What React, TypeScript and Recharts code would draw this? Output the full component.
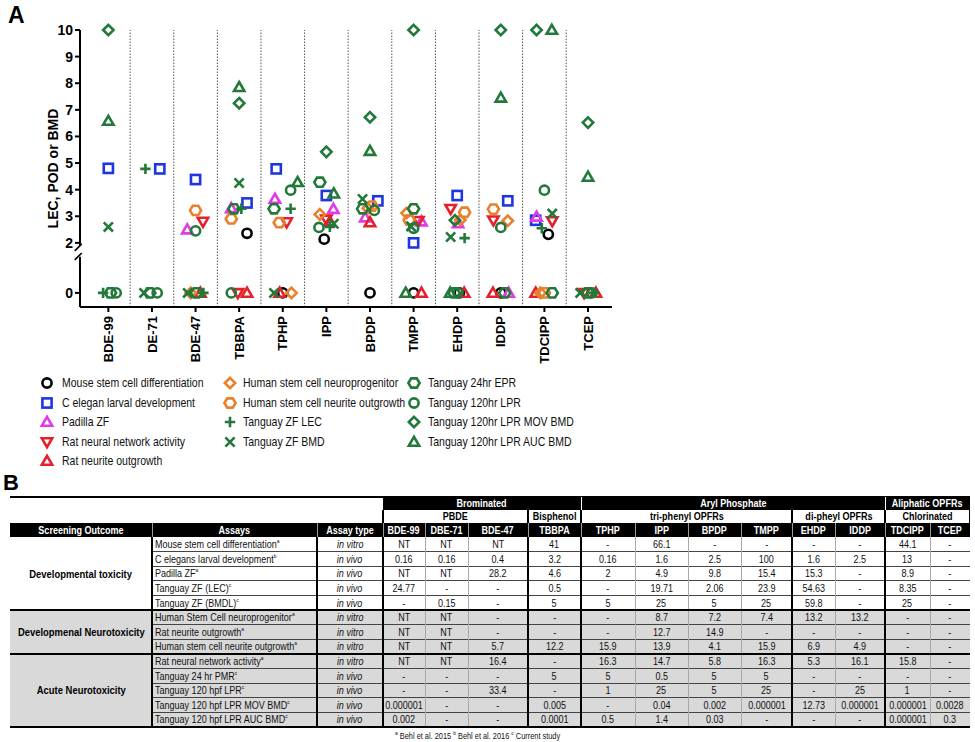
import React from 'react';
import { ScatterChart, Scatter, XAxis, YAxis, ReferenceLine, Label } from 'recharts';

// ---------------- Panel A data ----------------
const CATEGORIES = ['BDE-99', 'DE-71', 'BDE-47', 'TBBPA', 'TPHP', 'IPP', 'BPDP', 'TMPP', 'EHDP', 'IDDP', 'TDCIPP', 'TCEP'];
const Y_TICK_VALUES = [0, 2, 3, 4, 5, 6, 7, 8, 9, 10];

// each point: [category index, value, jitter inside the category column]
const mouseStem = [[3, 2.36, 0.18], [4, 0, 0], [5, 2.14, -0.05], [6, 0, 0], [7, 0, 0], [8, 0, 0.05], [9, 0, 0], [10, 2.32, 0.09]];
const cElegans = [[0, 4.8, 0], [1, 4.78, 0.18], [2, 4.38, 0], [3, 3.5, 0.18], [4, 4.78, -0.15], [5, 3.78, 0], [6, 3.58, 0.18], [7, 2.0, 0], [8, 3.78, 0], [9, 3.58, 0.16], [10, 2.85, -0.2]];
const padillaZF = [[2, 2.5, -0.19], [3, 3.3, -0.18], [4, 3.65, -0.18], [5, 3.27, 0.16], [6, 2.95, -0.11], [7, 2.8, 0.18], [8, 2.73, 0.02], [9, 0, 0.18], [10, 2.98, -0.18]];
const ratNetwork = [[2, 2.8, 0.17], [3, 0, -0.03], [4, 2.78, 0.09], [5, 2.88, 0], [7, 2.83, 0.11], [8, 3.28, -0.15], [9, 2.85, -0.17], [10, 2.82, 0.18], [11, 0, -0.09]];
const ratNeurite = [[2, 0, 0.11], [3, 0, 0.18], [4, 0, -0.07], [5, 2.8, 0.08], [6, 2.77, 0], [7, 0, 0.18], [8, 0, 0.16], [9, 0, -0.18], [10, 0, -0.2], [11, 0, 0.18]];
const humanNeuroprog = [[2, 0, -0.11], [4, 0, 0.2], [5, 3.07, -0.15], [6, 3.3, -0.05], [7, 3.12, -0.16], [8, 2.86, 0.07], [9, 2.83, 0.16], [10, 0, -0.09]];
const humanNeurite = [[2, 3.22, 0], [3, 2.9, -0.18], [4, 2.76, -0.08], [6, 3.38, 0.05], [7, 2.86, -0.1], [8, 3.15, 0.17], [9, 3.27, -0.17], [10, 0, 0]];
const tanguayLEC = [[0, 0, -0.12], [1, 4.78, -0.15], [2, 0, 0.18], [3, 3.28, 0.05], [4, 3.28, 0.18], [5, 2.6, 0.08], [8, 2.18, 0.17], [10, 2.55, -0.06], [11, 0, 0.14]];
const tanguayBMD = [[0, 2.6, 0], [1, 0, -0.18], [2, 0, -0.18], [3, 4.25, 0], [4, 0, -0.2], [5, 2.72, 0.17], [6, 3.65, -0.17], [7, 2.62, -0.06], [8, 2.22, -0.15], [10, 3.1, 0.18], [11, 0, -0.18]];
const tanguay24EPR = [[0, 0, 0.05], [1, 0, -0.05], [2, 0, 0.02], [3, 3.28, -0.12], [4, 3.28, -0.2], [5, 4.28, -0.15], [6, 3.28, -0.17], [7, 3.28, 0], [8, 0, -0.07], [9, 0, 0.09], [10, 0, 0.18], [11, 0, 0]];
const tanguay120LPR = [[0, 0, 0.18], [1, 0, 0.12], [2, 2.45, 0], [3, 0, -0.18], [4, 3.98, 0.18], [5, 2.58, -0.17], [6, 3.22, 0.1], [7, 2.55, 0], [8, 0, 0.02], [9, 2.58, 0], [10, 3.98, 0], [11, 0, 0.09]];
const movBMD = [[0, 10, 0], [3, 7.25, 0], [5, 5.42, 0], [6, 6.72, 0], [7, 10, 0], [8, 2.85, -0.05], [9, 10, 0], [10, 10, -0.18], [11, 6.52, 0]];
const aucBMD = [[0, 6.58, 0], [3, 7.85, 0], [4, 4.28, 0.34], [5, 3.85, 0.17], [6, 5.45, 0], [7, 0, -0.18], [8, 0, -0.16], [9, 7.45, 0], [10, 10, 0.17], [11, 4.48, 0]];

const SERIES = [
  { name: 'Mouse stem cell differentiation', color: '#000000', shape: 'circle', points: mouseStem },
  { name: 'C elegan larval development', color: '#1e36e0', shape: 'square', points: cElegans },
  { name: 'Padilla ZF', color: '#e03be6', shape: 'triangle', points: padillaZF },
  { name: 'Rat neural network activity', color: '#e5202a', shape: 'triangleDown', points: ratNetwork },
  { name: 'Rat neurite outgrowth', color: '#e5202a', shape: 'triangle', points: ratNeurite },
  { name: 'Human stem cell neuroprogenitor', color: '#e9802c', shape: 'diamond', points: humanNeuroprog },
  { name: 'Human stem cell neurite outgrowth', color: '#e9802c', shape: 'hexagon', points: humanNeurite },
  { name: 'Tanguay ZF LEC', color: '#23793a', shape: 'plus', points: tanguayLEC },
  { name: 'Tanguay ZF BMD', color: '#23793a', shape: 'cross', points: tanguayBMD },
  { name: 'Tanguay 24hr EPR', color: '#23793a', shape: 'hexagon', points: tanguay24EPR },
  { name: 'Tanguay 120hr LPR', color: '#23793a', shape: 'circle', points: tanguay120LPR },
  { name: 'Tanguay 120hr LPR MOV BMD', color: '#23793a', shape: 'diamond', points: movBMD },
  { name: 'Tanguay 120hr LPR AUC BMD', color: '#23793a', shape: 'triangle', points: aucBMD },
];
const LEGEND_COLUMNS = [[0, 1, 2, 3, 4], [5, 6, 7, 8], [9, 10, 11, 12]];

// axis with a break: the value 0 is drawn below the break
const ZERO_POS = 0.12;
const Y_MIN = -0.41;
const Y_MAX = 10;
const BREAK_LOW = 1.48;
const BREAK_HIGH = 1.9;
const X_MIN = -0.15;
const X_MAX = 12.05;
const toAxis = (v: number) => (v === 0 ? ZERO_POS : v);

// ---------------- Panel B data ----------------
const TABLE_GROUPS = [
  { label: 'Brominated', from: 0, to: 4 },
  { label: 'Aryl Phosphate', from: 4, to: 10 },
  { label: 'Aliphatic OPFRs', from: 10, to: 12 },
];
const TABLE_SUBGROUPS = [
  { label: 'PBDE', from: 0, to: 3 },
  { label: 'Bisphenol', from: 3, to: 4 },
  { label: 'tri-phenyl OPFRs', from: 4, to: 8 },
  { label: 'di-pheyl OPFRs', from: 8, to: 10 },
  { label: 'Chlorinated', from: 10, to: 12 },
];
const TABLE_CHEMICALS = ['BDE-99', 'DBE-71', 'BDE-47', 'TBBPA', 'TPHP', 'IPP', 'BPDP', 'TMPP', 'EHDP', 'IDDP', 'TDCIPP', 'TCEP'];
const OUTCOMES = [
  { label: 'Developmental toxicity', from: 0, to: 5 },
  { label: 'Developmenal Neurotoxicity', from: 5, to: 8 },
  { label: 'Acute Neurotoxicity', from: 8, to: 13 },
];
const ASSAYS = [
  'Mouse stem cell differentiation', 'C elegans larval development', 'Padilla ZF', 'Tanguay ZF (LEC)', 'Tanguay ZF (BMDL)',
  'Human Stem Cell neuroprogenitor', 'Rat neurite outgrowth', 'Human stem cell neurite outgrowth',
  'Rat neural network activity', 'Tanguay 24 hr PMR', 'Tanguay 120 hpf LPR', 'Tanguay 120 hpf LPR MOV BMD', 'Tanguay 120 hpf LPR AUC BMD',
];
const ASSAY_REFS = ['a', 'b', 'a', 'c', 'c', 'a', 'a', 'a', 'a', 'c', 'c', 'c', 'c'];
const ASSAY_TYPES = ['in vitro', 'in vivo', 'in vivo', 'in vivo', 'in vivo', 'in vitro', 'in vitro', 'in vitro', 'in vitro', 'in vivo', 'in vivo', 'in vivo', 'in vivo'];
const TABLE_VALUES = [
  ['NT', 'NT', 'NT', '41', '-', '66.1', '-', '-', '-', '-', '44.1', '-'],
  ['0.16', '0.16', '0.4', '3.2', '0.16', '1.6', '2.5', '100', '1.6', '2.5', '13', '-'],
  ['NT', 'NT', '28.2', '4.6', '2', '4.9', '9.8', '15.4', '15.3', '-', '8.9', '-'],
  ['24.77', '-', '-', '0.5', '-', '19.71', '2.06', '23.9', '54.63', '-', '8.35', '-'],
  ['-', '0.15', '-', '5', '5', '25', '5', '25', '59.8', '-', '25', '-'],
  ['NT', 'NT', '-', '-', '-', '8.7', '7.2', '7.4', '13.2', '13.2', '-', '-'],
  ['NT', 'NT', '-', '-', '-', '12.7', '14.9', '-', '-', '-', '-', '-'],
  ['NT', 'NT', '5.7', '12.2', '15.9', '13.9', '4.1', '15.9', '6.9', '4.9', '-', '-'],
  ['NT', 'NT', '16.4', '-', '16.3', '14.7', '5.8', '16.3', '5.3', '16.1', '15.8', '-'],
  ['-', '-', '-', '5', '5', '0.5', '5', '5', '-', '-', '-', '-'],
  ['-', '-', '33.4', '-', '1', '25', '5', '25', '-', '25', '1', '-'],
  ['0.000001', '-', '-', '0.005', '-', '0.04', '0.002', '0.000001', '12.73', '0.000001', '0.000001', '0.0028'],
  ['0.002', '-', '-', '0.0001', '0.5', '1.4', '0.03', '-', '-', '-', '0.000001', '0.3'],
];
const FOOTNOTES = [
  { ref: 'a', text: 'Behl et al. 2015' },
  { ref: 'b', text: 'Behl et al. 2016' },
  { ref: 'c', text: 'Current study' },
];

// ---------------- styling ----------------
const ARIAL = '"Liberation Sans", Arial, Helvetica, sans-serif';
const SQUEEZE = 0.82; // the original uses a narrow sans-serif

function Narrow({ children, origin = 'center' }: any) {
  return (
    <span style={{ display: 'inline-block', transform: `scaleX(${SQUEEZE})`, transformOrigin: `${origin} center`, whiteSpace: 'nowrap' }}>
      {children}
    </span>
  );
}

function Marker({ shape, color, cx, cy }: { shape: string; color: string; cx: number; cy: number }) {
  const c = { fill: 'none', stroke: color, strokeWidth: 2.6 };
  switch (shape) {
    case 'circle':
      return <circle cx={cx} cy={cy} r={4.6} {...c} />;
    case 'square':
      return <rect x={cx - 4.6} y={cy - 4.6} width={9.2} height={9.2} {...c} />;
    case 'triangle':
      return <polygon points={`${cx},${cy - 5.2} ${cx + 5.2},${cy + 3.8} ${cx - 5.2},${cy + 3.8}`} {...c} />;
    case 'triangleDown':
      return <polygon points={`${cx},${cy + 5.2} ${cx + 5.2},${cy - 3.8} ${cx - 5.2},${cy - 3.8}`} {...c} />;
    case 'diamond':
      return <polygon points={`${cx},${cy - 5.2} ${cx + 5.2},${cy} ${cx},${cy + 5.2} ${cx - 5.2},${cy}`} {...c} />;
    case 'hexagon':
      return (
        <polygon
          points={`${cx - 5.6},${cy} ${cx - 2.8},${cy - 4.6} ${cx + 2.8},${cy - 4.6} ${cx + 5.6},${cy} ${cx + 2.8},${cy + 4.6} ${cx - 2.8},${cy + 4.6}`}
          {...c}
        />
      );
    case 'plus':
      return <path d={`M${cx - 5.2},${cy}H${cx + 5.2}M${cx},${cy - 5.2}V${cy + 5.2}`} {...c} />;
    case 'cross':
      return <path d={`M${cx - 4.6},${cy - 4.6}L${cx + 4.6},${cy + 4.6}M${cx + 4.6},${cy - 4.6}L${cx - 4.6},${cy + 4.6}`} {...c} />;
    default:
      return null;
  }
}

const XTick = (props: any) => {
  const { x, y, payload } = props;
  const label = CATEGORIES[Math.floor(payload.value)];
  return (
    <g transform={`translate(${x},${y})`}>
      <text
        transform="rotate(-90)"
        x={-2}
        y={0}
        dy="0.36em"
        textAnchor="end"
        fill="#000"
        style={{ fontFamily: ARIAL, fontSize: 13, fontWeight: 700 }}
      >
        {label}
      </text>
    </g>
  );
};

const YLabel = (props: any) => {
  const vb = props.viewBox || { x: 0, y: 30, width: 80, height: 277 };
  const cx = vb.x + 53;
  const cy = vb.y + vb.height / 2;
  return (
    <text
      x={cx}
      y={cy}
      transform={`rotate(-90 ${cx} ${cy})`}
      textAnchor="middle"
      dominantBaseline="central"
      fill="#000"
      style={{ fontFamily: ARIAL, fontSize: 14, fontWeight: 700 }}
    >
      LEC, POD or BMD
    </text>
  );
};

function PanelA() {
  const xTicks = CATEGORIES.map((_, i) => i + 0.5);
  const yTicks = Y_TICK_VALUES.map(toAxis);
  const separators = CATEGORIES.slice(1).map((_, i) => i + 1);
  return (
    <ScatterChart width={630} height={375} margin={{ top: 30, right: 18, bottom: 8, left: 0 }}>
      <XAxis
        type="number"
        dataKey="x"
        domain={[X_MIN, X_MAX]}
        ticks={xTicks}
        interval={0}
        height={60}
        tick={<XTick />}
        tickSize={5}
        tickLine={{ stroke: '#000', strokeWidth: 2 }}
        axisLine={{ stroke: '#000', strokeWidth: 2 }}
      />
      <YAxis
        type="number"
        dataKey="y"
        domain={[Y_MIN, Y_MAX]}
        ticks={yTicks}
        interval={0}
        width={80}
        tickFormatter={(v: number) => (v < 1 ? '0' : String(v))}
        tick={{ fill: '#000', fontSize: 14, fontWeight: 700, fontFamily: ARIAL }}
        tickSize={5}
        tickLine={{ stroke: '#000', strokeWidth: 2 }}
        axisLine={false}
      >
        <Label content={<YLabel />} />
      </YAxis>
      {separators.map((s) => (
        <ReferenceLine key={s} x={s} stroke="#555" strokeWidth={1} strokeDasharray="1.5 1.5" />
      ))}
      <ReferenceLine
        segment={[{ x: X_MIN, y: Y_MAX }, { x: X_MIN, y: BREAK_HIGH }]}
        stroke="#000"
        strokeWidth={2}
        ifOverflow="visible"
      />
      <ReferenceLine
        segment={[{ x: X_MIN, y: BREAK_LOW }, { x: X_MIN, y: Y_MIN }]}
        stroke="#000"
        strokeWidth={2}
        ifOverflow="visible"
      />
      <ReferenceLine
        segment={[{ x: X_MIN - 0.12, y: BREAK_HIGH - 0.2 }, { x: X_MIN + 0.04, y: BREAK_HIGH + 0.06 }]}
        stroke="#000"
        strokeWidth={1.6}
        ifOverflow="visible"
      />
      <ReferenceLine
        segment={[{ x: X_MIN - 0.12, y: BREAK_LOW - 0.12 }, { x: X_MIN + 0.04, y: BREAK_LOW + 0.14 }]}
        stroke="#000"
        strokeWidth={1.6}
        ifOverflow="visible"
      />
      {SERIES.map((s) => (
        <Scatter
          key={s.name}
          name={s.name}
          data={s.points.map(([c, v, j]) => ({ x: c + 0.5 + j, y: toAxis(v) }))}
          isAnimationActive={false}
          shape={(p: any) => <Marker shape={s.shape} color={s.color} cx={p.cx} cy={p.cy} />}
        />
      ))}
    </ScatterChart>
  );
}

function LegendA() {
  const colX = [[47, 62], [230, 243], [414, 428]];
  const rowY = [383, 402.5, 422, 441.5, 461];
  return (
    <>
      {LEGEND_COLUMNS.map((col, ci) =>
        col.map((si, ri) => {
          const s = SERIES[si];
          return (
            <React.Fragment key={s.name}>
              <svg
                width={16}
                height={16}
                style={{ position: 'absolute', left: colX[ci][0] - 8, top: rowY[ri] - 8, overflow: 'visible' }}
              >
                <Marker shape={s.shape} color={s.color} cx={8} cy={8} />
              </svg>
              <div
                style={{
                  position: 'absolute',
                  left: colX[ci][1],
                  top: rowY[ri] - 8,
                  height: 16,
                  lineHeight: '16px',
                  fontFamily: ARIAL,
                  fontSize: 12.8,
                  color: '#111',
                  whiteSpace: 'nowrap',
                }}
              >
                <Narrow origin="left">{s.name}</Narrow>
              </div>
            </React.Fragment>
          );
        })
      )}
    </>
  );
}

// table geometry
const COL_EDGES = [10, 152, 317, 383, 425, 468, 528, 581, 635, 688, 741, 792, 835, 885, 930, 970];
const HEAD_Y = [497, 509.5, 523, 537];
const ROW_H = 14.6;
const GROUP_EDGE_INDEX = [3, 4, 8, 10];

function Box({ x0, x1, y0, y1, style, children }: any) {
  return (
    <div
      style={{
        position: 'absolute',
        left: x0,
        top: y0,
        width: x1 - x0,
        height: y1 - y0,
        display: 'flex',
        alignItems: 'center',
        justifyContent: 'center',
        whiteSpace: 'nowrap',
        boxSizing: 'border-box',
        ...style,
      }}
    >
      {children}
    </div>
  );
}

function Line({ x0, x1, y0, y1, color }: any) {
  return <div style={{ position: 'absolute', left: x0, top: y0, width: x1 - x0, height: y1 - y0, background: color }} />;
}

function PanelB() {
  const valX = (j: number) => [COL_EDGES[3 + j], COL_EDGES[4 + j]];
  const rowTop = (i: number) => HEAD_Y[3] + ROW_H * i;
  const dataBottom = rowTop(ASSAYS.length);
  const txt = { fontFamily: ARIAL, fontSize: 11, color: '#111' };
  const head = { fontFamily: ARIAL, fontSize: 11, fontWeight: 700 };
  const sectionBreaks = OUTCOMES.slice(1).map((o) => o.from);
  const elems: any[] = [];

  // backgrounds
  elems.push(<Line key="bg-gray" x0={10} x1={970} y0={rowTop(5)} y1={dataBottom} color="#d9d9d9" />);
  elems.push(<Line key="h1" x0={383} x1={970} y0={HEAD_Y[0]} y1={HEAD_Y[1]} color="#000" />);
  elems.push(<Line key="h3" x0={10} x1={970} y0={HEAD_Y[2]} y1={HEAD_Y[3]} color="#000" />);
  elems.push(<Line key="top" x0={10} x1={970} y0={HEAD_Y[0] - 1.5} y1={HEAD_Y[0] + 0.5} color="#000" />);

  // header row 1
  TABLE_GROUPS.forEach((g, gi) => {
    const x0 = valX(g.from)[0];
    const x1 = valX(g.to - 1)[1];
    elems.push(
      <Box key={'g' + gi} x0={x0} x1={x1} y0={HEAD_Y[0]} y1={HEAD_Y[1]} style={{ ...head, color: '#fff' }}>
        <Narrow>{g.label}</Narrow>
      </Box>
    );
    if (gi > 0) elems.push(<Line key={'gl' + gi} x0={x0 - 0.5} x1={x0 + 0.5} y0={HEAD_Y[0]} y1={HEAD_Y[1]} color="#fff" />);
  });
  // header row 2
  TABLE_SUBGROUPS.forEach((g, gi) => {
    const x0 = valX(g.from)[0];
    const x1 = valX(g.to - 1)[1];
    elems.push(
      <Box key={'s' + gi} x0={x0} x1={x1} y0={HEAD_Y[1]} y1={HEAD_Y[2]} style={{ ...head, color: '#000' }}>
        <Narrow>{g.label}</Narrow>
      </Box>
    );
    elems.push(<Line key={'sl' + gi} x0={x0 - 0.75} x1={x0 + 0.75} y0={HEAD_Y[1]} y1={HEAD_Y[2]} color="#000" />);
  });
  elems.push(<Line key="sl-end" x0={969} x1={970} y0={HEAD_Y[1]} y1={HEAD_Y[2]} color="#000" />);
  // header row 3
  const headLabels = ['Screening Outcome', 'Assays', 'Assay type', ...TABLE_CHEMICALS];
  headLabels.forEach((h, k) => {
    elems.push(
      <Box key={'hl' + k} x0={COL_EDGES[k]} x1={COL_EDGES[k + 1]} y0={HEAD_Y[2]} y1={HEAD_Y[3]} style={{ ...head, color: '#fff' }}>
        <Narrow>{h}</Narrow>
      </Box>
    );
    if (k > 0)
      elems.push(<Line key={'hs' + k} x0={COL_EDGES[k] - 0.5} x1={COL_EDGES[k] + 0.5} y0={HEAD_Y[2]} y1={HEAD_Y[3]} color="#9a9a9a" />);
  });

  // section cells
  OUTCOMES.forEach((o, oi) => {
    elems.push(
      <Box key={'o' + oi} x0={10} x1={152} y0={rowTop(o.from)} y1={rowTop(o.to)} style={{ ...head, fontSize: 11.5, color: '#000' }}>
        <Narrow>{o.label}</Narrow>
      </Box>
    );
  });
  // data rows
  ASSAYS.forEach((a, i) => {
    const y0 = rowTop(i);
    const y1 = rowTop(i + 1);
    elems.push(
      <Box key={'a' + i} x0={152} x1={317} y0={y0} y1={y1} style={{ ...txt, justifyContent: 'flex-start', paddingLeft: 3 }}>
        <Narrow origin="left">
          {a}
          <sup style={{ fontSize: 6, verticalAlign: 'super', lineHeight: 0 }}>{ASSAY_REFS[i]}</sup>
        </Narrow>
      </Box>
    );
    elems.push(
      <Box key={'t' + i} x0={317} x1={383} y0={y0} y1={y1} style={{ ...txt, fontStyle: 'italic' }}>
        <Narrow>{ASSAY_TYPES[i]}</Narrow>
      </Box>
    );
    TABLE_VALUES[i].forEach((v, j) => {
      const [x0, x1] = valX(j);
      elems.push(
        <Box key={'v' + i + '-' + j} x0={x0} x1={x1} y0={y0} y1={y1} style={txt}>
          <Narrow>{v}</Narrow>
        </Box>
      );
    });
    if (i > 0 && !sectionBreaks.includes(i)) {
      elems.push(<Line key={'hr' + i} x0={152} x1={970} y0={y0 - 0.5} y1={y0 + 0.5} color="#444" />);
    }
  });
  // vertical lines in the body
  COL_EDGES.slice(1, -1).forEach((x, k) => {
    const idx = k + 1;
    let w = 1;
    let color = '#a8a8a8';
    if (idx === 1 || idx === 3) {
      w = 2;
      color = '#000';
    } else if (idx === 2) {
      w = 1.2;
      color = '#000';
    } else if (GROUP_EDGE_INDEX.includes(idx - 3)) {
      w = 1.5;
      color = '#000';
    }
    elems.push(<Line key={'vl' + idx} x0={x - w / 2} x1={x + w / 2} y0={HEAD_Y[3]} y1={dataBottom} color={color} />);
  });
  // section rules
  sectionBreaks.forEach((r) => {
    elems.push(<Line key={'sr' + r} x0={10} x1={970} y0={rowTop(r) - 1} y1={rowTop(r) + 1} color="#000" />);
  });
  elems.push(<Line key="bottom" x0={10} x1={970} y0={dataBottom - 1} y1={dataBottom + 1.5} color="#000" />);

  return (
    <>
      <div style={{ position: 'absolute', left: 3, top: 470, fontFamily: ARIAL, fontWeight: 700, fontSize: 22, lineHeight: '26px' }}>B</div>
      {elems}
      <div
        style={{
          position: 'absolute',
          left: 395,
          top: dataBottom + 3,
          fontFamily: ARIAL,
          fontSize: 9,
          color: '#111',
          whiteSpace: 'nowrap',
        }}
      >
        <Narrow origin="left">
          {FOOTNOTES.map((f) => (
            <span key={f.ref}>
              <sup style={{ fontSize: 6 }}>{f.ref}</sup> {f.text}{' '}
            </span>
          ))}
        </Narrow>
      </div>
    </>
  );
}

export default function App() {
  return (
    <div style={{ position: 'absolute', left: 0, top: 0, width: 975, height: 742, background: '#fff', overflow: 'hidden' }}>
      <div style={{ position: 'absolute', left: 8, top: 2, fontFamily: ARIAL, fontWeight: 700, fontSize: 23, lineHeight: '26px' }}>A</div>
      <div style={{ position: 'absolute', left: 0, top: 0 }}>
        <PanelA />
      </div>
      <LegendA />
      <PanelB />
    </div>
  );
}
